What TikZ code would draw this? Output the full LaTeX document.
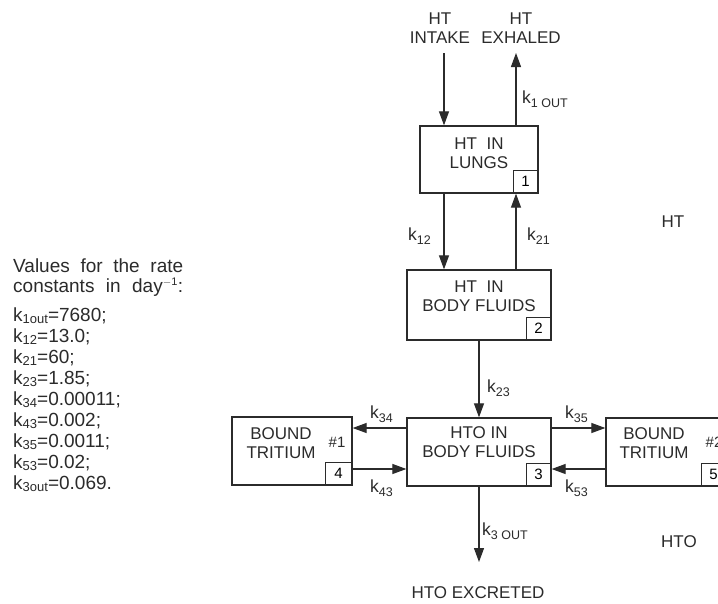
\documentclass[tikz,border=0pt]{standalone}
\usepackage{fontspec}
\setmainfont{Liberation Sans}
\usetikzlibrary{arrows.meta}
\definecolor{ink}{HTML}{2B2B2B}
\newcommand{\kd}[1]{k\raisebox{-4pt}{\fontsize{12.5}{12}\selectfont #1}}
\newcommand{\kl}[1]{k\raisebox{-2pt}{\fontsize{13}{13}\selectfont #1}}
\tikzset{
  box/.style={draw=ink, line width=1.3pt, inner sep=0pt},
  numbox/.style={draw=ink, line width=1.1pt, minimum width=25pt, minimum height=23pt, inner sep=0pt, anchor=south east, font=\fontsize{15}{15}\selectfont},
  txt/.style={align=center, inner sep=0pt, font=\fontsize{17}{19.5}\selectfont, text=ink},
  klab/.style={inner sep=0pt, anchor=base west, font=\fontsize{17.5}{17}\selectfont, text=ink},
  lst/.style={inner sep=0pt, anchor=base west, font=\fontsize{19}{19}\selectfont, text=ink},
  arr/.style={draw=ink, line width=1.2pt, -{Triangle[length=14pt,width=10pt]}}
}
\begin{document}
\begin{tikzpicture}[x=1pt,y=-1pt]
\useasboundingbox (0,0) rectangle (718,603);
\clip (0,0) rectangle (718,603);
\fill[white] (0,0) rectangle (718,603);

% boxes
\node[box, minimum width=118pt, minimum height=67pt] (b1) at (479,159.5) {};
\node[box, minimum width=144pt, minimum height=70pt] (b2) at (479,305) {};
\node[box, minimum width=144pt, minimum height=68pt] (b3) at (479,452) {};
\node[box, minimum width=120pt, minimum height=68pt] (b4) at (292,451) {};
\node[box, minimum width=120pt, minimum height=68pt] (b5) at (666,452) {};

\node[numbox] (n1) at (b1.south east) {1};
\node[numbox] (n2) at (b2.south east) {2};
\node[numbox] (n3) at (b3.south east) {3};
\node[numbox, minimum width=27pt] (n4) at (b4.south east) {4};
\node[numbox] (n5) at (b5.south east) {5};

% box texts
\node[txt] (t1) at (479,153) {HT\ \ IN\\LUNGS};
\node[txt] (t2) at (479,296) {HT\ \ IN\\BODY FLUIDS};
\node[txt] (t3) at (479,442) {HTO IN\\BODY FLUIDS};
\node[txt] (t4) at (281,443) {BOUND\\TRITIUM};
\node[txt] (t5) at (654,443) {BOUND\\TRITIUM};
\node[txt, font=\fontsize{15}{15}\selectfont] (h1) at (337,442) {\#1};
\node[txt, font=\fontsize{15}{15}\selectfont] (h2) at (714,442) {\#2};

% top labels
\node[txt] (intakelbl) at (440,28) {HT\\INTAKE};
\node[txt] (exhlbl) at (521,28) {HT\\EXHALED};
\coordinate (intake) at (444,53);
\coordinate (exhaled) at (516,53);
\coordinate (r1) at (0,428);
\coordinate (r2) at (0,469);
\coordinate (excr) at (479,562);

% connectors
\draw[arr] (intake) -- (intake |- b1.north);
\draw[arr] (exhaled |- b1.north) -- (exhaled);
\draw[arr] (intake |- b1.south) -- (intake |- b2.north);
\draw[arr] (exhaled |- b2.north) -- (exhaled |- b1.south);
\draw[arr] (b2.south) -- (b3.north);
\draw[arr] (b3.west |- r1) -- (b4.east |- r1);
\draw[arr] (b4.east |- r2) -- (b3.west |- r2);
\draw[arr] (b3.east |- r1) -- (b5.west |- r1);
\draw[arr] (b5.west |- r2) -- (b3.east |- r2);
\draw[arr] (b3.south) -- (excr);

% rate labels
\node[klab] (l1out) at (522,103) {\kd{1 OUT}};
\node[klab] (l12) at (408,240) {\kd{12}};
\node[klab] (l21) at (527,240) {\kd{21}};
\node[klab] (l23) at (487,392) {\kd{23}};
\node[klab] (l34) at (370,418) {\kd{34}};
\node[klab] (l43) at (370,492) {\kd{43}};
\node[klab] (l35) at (565,418) {\kd{35}};
\node[klab] (l53) at (565,492) {\kd{53}};
\node[klab] (l3out) at (482,535) {\kd{3 OUT}};

\node[txt] (excrlbl) at (478,593) {HTO EXCRETED};
\node[txt] (htlbl) at (673,222) {HT};
\node[txt] (htolbl) at (679,542) {HTO};

% left legend
\node[lst] (v1) at (13,272) {\makebox[170pt][s]{Values for the rate}};
\node[lst] (v2) at (13,292) {\makebox[170pt][s]{constants in day\textsuperscript{\fontsize{11}{11}\selectfont $-$1}:}};
\node[lst] (c1) at (13,321) {\kl{1out}=7680;};
\node[lst] (c2) at (13,342) {\kl{12}=13.0;};
\node[lst] (c3) at (13,363) {\kl{21}=60;};
\node[lst] (c4) at (13,384) {\kl{23}=1.85;};
\node[lst] (c5) at (13,405) {\kl{34}=0.00011;};
\node[lst] (c6) at (13,426) {\kl{43}=0.002;};
\node[lst] (c7) at (13,447) {\kl{35}=0.0011;};
\node[lst] (c8) at (13,468) {\kl{53}=0.02;};
\node[lst] (c9) at (13,489) {\kl{3out}=0.069.};
\end{tikzpicture}
\end{document}
